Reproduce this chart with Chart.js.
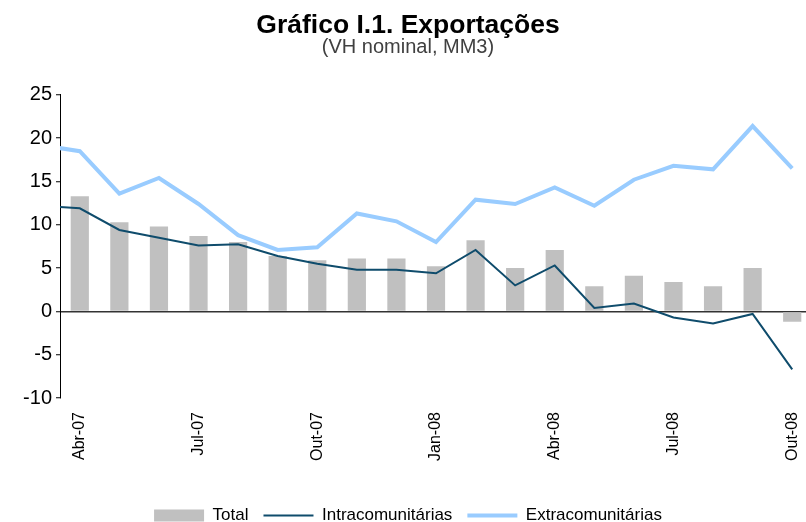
<!DOCTYPE html>
<html>
<head>
<meta charset="utf-8">
<script src="https://cdn.jsdelivr.net/npm/chart.js@4/dist/chart.umd.min.js"></script>
<style>
  body { margin: 0; background: #fff; }
  #wrap { width: 806px; height: 522px; overflow: hidden; }
</style>
</head>
<body>
<div id="wrap"><canvas id="myChart" width="818" height="534"></canvas></div>
<script>
// meses (o primeiro fica fora do eixo, só a linha entra cortada)
var meses = ['Mar-07', 'Abr-07', 'Mai-07', 'Jun-07', 'Jul-07', 'Ago-07', 'Set-07', 'Out-07', 'Nov-07', 'Dez-07',
             'Jan-08', 'Fev-08', 'Mar-08', 'Abr-08', 'Mai-08', 'Jun-08', 'Jul-08', 'Ago-08', 'Set-08', 'Out-08'];
var total = [null, 13.3, 10.3, 9.8, 8.7, 8.0, 6.4, 5.9, 6.1, 6.1, 5.2, 8.2, 5.0, 7.1, 2.9, 4.1, 3.4, 2.9, 5.0, -1.2];
var intra = [12.2, 11.9, 9.4, 8.5, 7.6, 7.75, 6.4, 5.5, 4.8, 4.8, 4.4, 7.1, 3.0, 5.3, 0.4, 0.9, -0.7, -1.4, -0.3, -6.7];
var extra = [19.2, 18.5, 13.6, 15.4, 12.4, 8.8, 7.1, 7.4, 11.3, 10.4, 8.0, 12.9, 12.4, 14.3, 12.2, 15.2, 16.8, 16.4, 21.4, 16.5];
var yTicks = [-10, -5, 0, 5, 10, 15, 20, 25];

Chart.defaults.font.family = '"Liberation Sans", Arial, sans-serif';
Chart.defaults.color = '#000';

var ctx = document.getElementById('myChart').getContext('2d');
var myChart = new Chart(ctx, {
    type: 'bar',
    data: {
        labels: meses,
        datasets: [
            {
                label: 'Total',
                data: total,
                backgroundColor: '#C0C0C0',
                borderWidth: 0,
                categoryPercentage: 1,
                barPercentage: 0.46,
                pointStyle: 'rect',
                order: 3
            },
            {
                type: 'line',
                label: 'Intracomunitárias',
                data: intra,
                borderColor: '#0F4C6C',
                backgroundColor: '#0F4C6C',
                borderWidth: 2,
                pointRadius: 0,
                pointStyle: 'line',
                tension: 0,
                order: 1
            },
            {
                type: 'line',
                label: 'Extracomunitárias',
                data: extra,
                borderColor: '#99CCFF',
                backgroundColor: '#99CCFF',
                borderWidth: 4,
                pointRadius: 0,
                pointStyle: 'line',
                tension: 0,
                order: 2
            }
        ]
    },
    options: {
        responsive: false,
        animation: false,
        layout: { padding: { left: 4, right: 6, top: 0, bottom: 0 } },
        scales: {
            x: {
                min: 'Abr-07',
                offset: true,
                grid: { display: false, drawTicks: false },
                border: { display: false },
                ticks: {
                    autoSkip: false,
                    minRotation: 90,
                    maxRotation: 90,
                    padding: 14,
                    font: { size: 16 },
                    callback: function(val) {
                        return (val - 1) % 3 === 0 ? meses[val] : '';
                    }
                },
                afterFit: function(axis) {
                    axis.height = 94;
                    axis.paddingLeft = 0;
                    axis.paddingRight = 0;
                }
            },
            y: {
                min: -10,
                max: 25,
                afterBuildTicks: function(axis) {
                    axis.ticks = yTicks.map(function(v) { return { value: v }; });
                },
                grid: {
                    color: function(c) { return c.tick && c.tick.value === 0 ? '#333' : 'rgba(0,0,0,0)'; },
                    lineWidth: 1.5,
                    tickColor: '#000',
                    tickWidth: 1,
                    tickLength: 4
                },
                border: { display: true, color: '#000', width: 1 },
                ticks: { padding: 4, font: { size: 20 } },
                afterFit: function(axis) { axis.width = 56; }
            }
        },
        plugins: {
            title: {
                display: true,
                text: 'Gráfico I.1. Exportações',
                font: { size: 26.5, weight: 'bold', lineHeight: 0.9 },
                color: '#000',
                padding: { top: 14, bottom: 0 }
            },
            subtitle: {
                display: true,
                text: '(VH nominal, MM3)',
                font: { size: 20, lineHeight: 1.0 },
                color: '#404040',
                padding: { top: 0, bottom: 37 }
            },
            legend: {
                position: 'bottom',
                labels: {
                    usePointStyle: true,
                    pointStyleWidth: 50,
                    boxHeight: 12,
                    padding: 15,
                    color: '#000',
                    font: { size: 17 },
                    sort: function(a, b) { return a.datasetIndex - b.datasetIndex; }
                }
            },
            tooltip: { enabled: false }
        }
    }
});
</script>
</body>
</html>
